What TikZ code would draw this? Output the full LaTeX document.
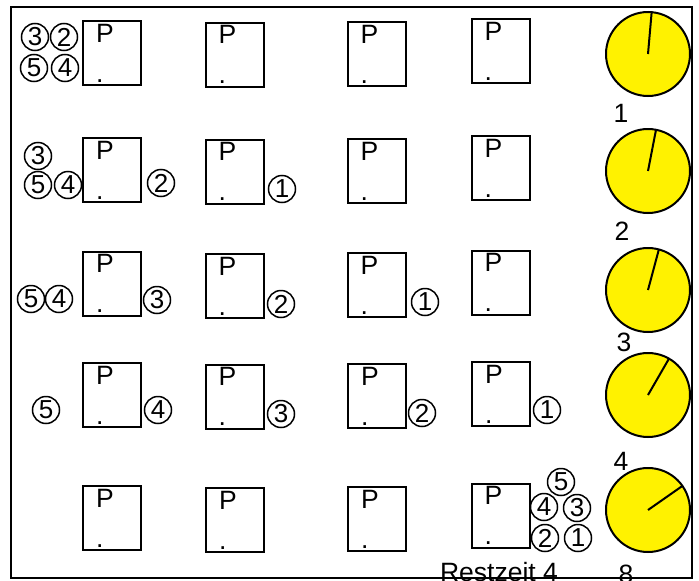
\documentclass[tikz,border=0pt]{standalone}
\usepackage{fontspec}
\setmainfont{Liberation Sans}

\begin{document}
\begin{tikzpicture}[x=1pt, y=-1pt,
  proz/.style={draw, line width=2pt, minimum width=58pt, minimum height=64pt, inner xsep=13pt, inner ysep=0pt, text width=32pt, align=left, font=\fontsize{26.5}{37}\selectfont},
  job/.style={circle, draw, line width=1.5pt, minimum size=27pt, inner sep=0pt, font=\fontsize{26}{30}\selectfont},
  uhr/.style={circle, draw, fill=yellow, line width=2pt, minimum size=84pt, inner sep=0pt, outer sep=0pt},
  zeiger/.style={line width=2pt},
  txt/.style={inner sep=0pt, font=\fontsize{26.5}{30}\selectfont}]
  \useasboundingbox (0,0) rectangle (699,581);
  \draw[line width=2pt] (11,7) rectangle (692,578);

  % Prozessoren
  \node[proz] (p11) at (112,53) {P\\[3pt].};
  \node[proz] (p12) at (234.5,54.5) {P\\[3pt].};
  \node[proz] (p13) at (376.5,54) {P\\[3pt].};
  \node[proz] (p14) at (500.5,51) {P\\[3pt].};
  \node[proz] (p21) at (112,170) {P\\[3pt].};
  \node[proz] (p22) at (234.5,171.5) {P\\[3pt].};
  \node[proz] (p23) at (376.5,171) {P\\[3pt].};
  \node[proz] (p24) at (500.5,168) {P\\[3pt].};
  \node[proz] (p31) at (112,283.5) {P\\[3pt].};
  \node[proz] (p32) at (234.5,286) {P\\[3pt].};
  \node[proz] (p33) at (376.5,285) {P\\[3pt].};
  \node[proz] (p34) at (500.5,282.5) {P\\[3pt].};
  \node[proz] (p41) at (112,395) {P\\[3pt].};
  \node[proz] (p42) at (234.5,396.5) {P\\[3pt].};
  \node[proz] (p43) at (377,396) {P\\[3pt].};
  \node[proz] (p44) at (501,394) {P\\[3pt].};
  \node[proz] (p51) at (112,518) {P\\[3pt].};
  \node[proz] (p52) at (235,520) {P\\[3pt].};
  \node[proz] (p53) at (377,519) {P\\[3pt].};
  \node[proz] (p54) at (500.5,515.5) {P\\[3pt].};

  % Jobs
  \node[job] (j13) at (35,37) {3};
  \node[job] (j12) at (64,37) {2};
  \node[job] (j15) at (34,68) {5};
  \node[job] (j14) at (65,68) {4};

  \node[job] (j23) at (38,156) {3};
  \node[job] (j25) at (38,185) {5};
  \node[job] (j24) at (68,185) {4};
  \node[job] (j22) at (161,183) {2};
  \node[job] (j21) at (282,189) {1};

  \node[job] (j35) at (31,299) {5};
  \node[job] (j34) at (59,299) {4};
  \node[job] (j33) at (157,300) {3};
  \node[job] (j32) at (281,304) {2};
  \node[job] (j31) at (425,302) {1};

  \node[job] (j45) at (46,410) {5};
  \node[job] (j44) at (158,410) {4};
  \node[job] (j43) at (281,414) {3};
  \node[job] (j42) at (422,413) {2};
  \node[job] (j41) at (547,410) {1};

  \node[job] (j55) at (561,482) {5};
  \node[job] (j54) at (544,507) {4};
  \node[job] (j53) at (577,508) {3};
  \node[job] (j52) at (545,538) {2};
  \node[job] (j51) at (578,538) {1};

  % Uhren
  \node[uhr] (u1) at (648,54) {};
  \draw[zeiger] (u1.center) -- (u1.85);
  \node[txt] (t1) at (621,113) {1};
  \node[uhr] (u2) at (648,171) {};
  \draw[zeiger] (u2.center) -- (u2.79);
  \node[txt] (t2) at (622,231) {2};
  \node[uhr] (u3) at (648,290) {};
  \draw[zeiger] (u3.center) -- (u3.75);
  \node[txt] (t3) at (624,342) {3};
  \node[uhr] (u4) at (648,395) {};
  \draw[zeiger] (u4.center) -- (u4.60);
  \node[txt] (t4) at (621,461) {4};
  \node[uhr] (u5) at (648,510) {};
  \draw[zeiger] (u5.center) -- (u5.35);
  \node[txt] (t5) at (626,574.5) {8};
  \node[txt] (rest) at (499,572.5) {Restzeit 4};
\end{tikzpicture}
\end{document}
